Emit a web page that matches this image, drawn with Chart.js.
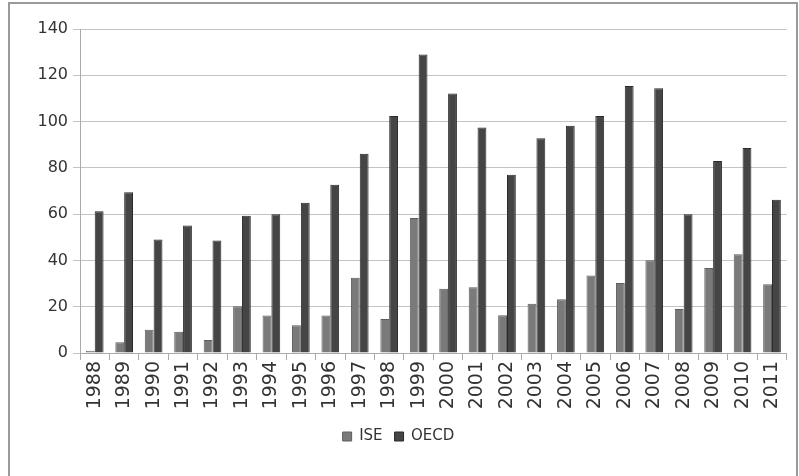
<!DOCTYPE html>
<html>
<head>
<meta charset="utf-8">
<script src="https://cdn.jsdelivr.net/npm/chart.js@4/dist/chart.umd.min.js"></script>
<style>
  html, body { margin: 0; padding: 0; background: #fff; overflow: hidden; }
  #box {
    position: absolute; left: 8px; top: 2px; width: 790px; height: 480px;
    border: 2px solid #9a9a9a; box-sizing: border-box;
  }
  #wrap { position: absolute; left: 0; top: 0; width: 786px; height: 476px; }
</style>
</head>
<body>
<div id="box"><div id="wrap"><canvas id="grafico"></canvas></div></div>
<script>
const anos = ["1988", "1989", "1990", "1991", "1992", "1993", "1994", "1995", "1996", "1997", "1998", "1999",
  "2000", "2001", "2002", "2003", "2004", "2005", "2006", "2007", "2008", "2009", "2010", "2011"];
const ise = [1, 4.6, 10.1, 9.2, 5.6, 20.2, 16.2, 12, 16.2, 32.5, 14.7, 58.3,
  27.8, 28.4, 16.3, 21.3, 23.2, 33.5, 30.2, 40.1, 19, 36.7, 42.7, 29.7];
const oecd = [61.2, 69.5, 49, 55.1, 48.6, 59.3, 59.9, 64.9, 72.7, 86.1, 102.4, 129,
  112.1, 97.4, 77, 92.8, 98.2, 102.4, 115.4, 114.4, 59.9, 83, 88.6, 66.2];
const yTicks = [0, 20, 40, 60, 80, 100, 120, 140];

const fonte = "'DejaVu Sans', sans-serif";

new Chart(document.getElementById("grafico"), {
  type: "bar",
  data: {
    labels: anos,
    datasets: [
      { label: "ISE", data: ise, backgroundColor: "#7a7a7a", borderColor: "#5e5e5e", borderWidth: 1 },
      { label: "OECD", data: oecd, backgroundColor: "#454545", borderColor: "#2a2a2a", borderWidth: 1 }
    ]
  },
  options: {
    responsive: true,
    maintainAspectRatio: false,
    animation: false,
    layout: { padding: { left: 0, right: 9, top: 25, bottom: 26 } },
    datasets: { bar: { categoryPercentage: 0.6, barPercentage: 1.0 } },
    plugins: {
      tooltip: { enabled: false },
      legend: {
        position: "bottom",
        labels: {
          color: "#333", font: { family: fonte, size: 15 },
          boxWidth: 9, boxHeight: 9, padding: 12
        }
      }
    },
    scales: {
      x: {
        afterFit: s => { s.height = 64; },
        grid: { offset: true, drawOnChartArea: false, tickLength: 7, color: "#aaa" },
        border: { color: "#aaa" },
        ticks: { color: "#333", font: { family: fonte, size: 19 }, minRotation: 90, maxRotation: 90, padding: 1, autoSkip: false }
      },
      y: {
        min: 0, max: 140,
        afterFit: s => { s.width = 70; },
        afterBuildTicks: s => { s.ticks = yTicks.map(v => ({ value: v })); },
        grid: { color: "#c4c4c4", tickLength: 7 },
        border: { color: "#aaa" },
        ticks: { color: "#333", font: { family: fonte, size: 16 }, padding: 5 }
      }
    }
  }
});
</script>
</body>
</html>
